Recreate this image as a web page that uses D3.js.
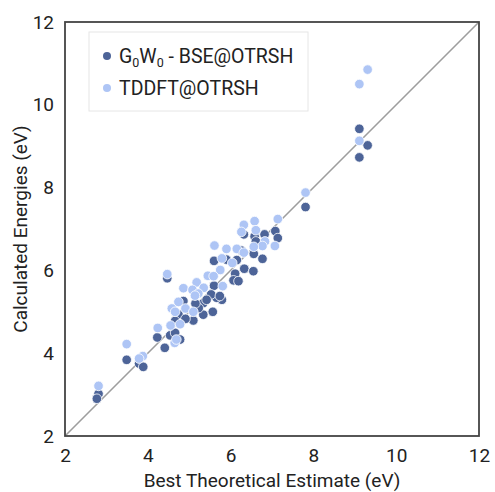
<!DOCTYPE html>
<html>
<head>
<script src="https://cdn.jsdelivr.net/npm/d3@7"></script>
<style>
  body { margin: 0; background: #fff; }
  text { font-family: Roboto, "Noto Sans", sans-serif; fill: #222; }
</style>
</head>
<body>
<script>
// G0W0 - BSE@OTRSH (dark)
var gwX = [9.11, 9.31, 9.11, 7.81, 2.81, 2.77, 3.49, 3.79, 3.89, 4.47,
           6.32, 6.58, 6.61, 6.82, 7.08, 7.14, 6.56, 6.77, 5.60, 5.90,
           6.15, 6.26, 6.33, 6.55, 6.11, 6.07, 6.19, 5.60, 5.79, 5.66,
           5.53, 5.34, 5.57, 5.34, 5.23, 5.10, 4.86, 4.74, 4.66, 4.91,
           4.23, 4.54, 4.66, 4.78, 4.41, 5.15, 5.42, 5.74];
var gwY = [9.42, 9.02, 8.73, 7.53, 3.02, 2.90, 3.84, 3.75, 3.67, 5.81,
           6.87, 6.82, 6.70, 6.87, 6.95, 6.78, 6.40, 6.28, 6.23, 6.26,
           6.25, 6.48, 6.04, 5.98, 5.92, 5.76, 5.74, 5.63, 5.29, 5.34,
           5.42, 5.21, 5.00, 4.93, 5.09, 4.79, 5.26, 4.94, 4.78, 4.83,
           4.38, 4.43, 4.49, 4.33, 4.13, 5.20, 5.29, 5.38];
// TDDFT@OTRSH (light)
var tdX = [9.31, 9.11, 9.11, 7.81, 2.81, 3.49, 3.88, 3.79, 4.47,
           6.32, 6.58, 7.14, 6.61, 6.26, 5.61, 5.90, 6.15, 6.83, 7.07,
           6.77, 6.32, 5.79, 6.04, 6.56, 5.75, 5.45, 5.59, 5.81, 5.18,
           4.86, 5.08, 5.35, 5.22, 5.14, 4.74, 4.58, 4.66, 4.91, 5.10,
           4.24, 4.55, 4.78, 4.65, 4.69];
var tdY = [10.85, 10.50, 9.13, 7.88, 3.21, 4.22, 3.93, 3.87, 5.91,
           7.10, 7.19, 7.24, 6.97, 6.93, 6.60, 6.52, 6.52, 6.70, 6.59,
           6.59, 6.43, 6.29, 6.18, 6.57, 6.01, 5.87, 5.86, 5.62, 5.71,
           5.57, 5.53, 5.58, 5.44, 5.39, 5.24, 5.08, 5.00, 5.08, 5.00,
           4.61, 4.67, 4.70, 4.25, 4.33];
var ticks = [2, 4, 6, 8, 10, 12];
var seriesNames = ["G\u2080W\u2080 - BSE@OTRSH", "TDDFT@OTRSH"];
var colors = ["#4d6498", "#aec5f5"];

var W = 495, H = 492;
var m = {left: 65, top: 22, right: 16, bottom: 56};
var svg = d3.select("body").append("svg").attr("width", W).attr("height", H);

var x = d3.scaleLinear().domain([2, 12]).range([m.left, W - m.right]);
var y = d3.scaleLinear().domain([2, 12]).range([H - m.bottom, m.top]);

// diagonal
svg.append("line")
  .attr("x1", x(2)).attr("y1", y(2)).attr("x2", x(12)).attr("y2", y(12))
  .attr("stroke", "#9e9e9e").attr("stroke-width", 1.6);

function drawSeries(xs, ys, col) {
  svg.append("g").selectAll("circle")
    .data(xs.map(function(v, i) { return [v, ys[i]]; }))
    .enter().append("circle")
    .attr("cx", function(d) { return x(d[0]); })
    .attr("cy", function(d) { return y(d[1]); })
    .attr("r", 4.8)
    .attr("fill", col)
    .attr("stroke", "#fff").attr("stroke-width", 0.8);
}
drawSeries(gwX, gwY, colors[0]);
drawSeries(tdX, tdY, colors[1]);

// frame
svg.append("rect")
  .attr("x", x(2)).attr("y", y(12))
  .attr("width", x(12) - x(2)).attr("height", y(2) - y(12))
  .attr("fill", "none").attr("stroke", "#444").attr("stroke-width", 1.8);

// axes (labels only)
var xAxis = svg.append("g").attr("transform", "translate(0," + (H - m.bottom) + ")")
  .call(d3.axisBottom(x).tickValues(ticks).tickSize(0).tickPadding(13));
var yAxis = svg.append("g").attr("transform", "translate(" + m.left + ",0)")
  .call(d3.axisLeft(y).tickValues(ticks).tickSize(0).tickPadding(11));
[xAxis, yAxis].forEach(function(a) {
  a.select(".domain").remove();
  a.selectAll("text").attr("font-size", 19).attr("font-family", "Roboto").attr("fill", "#222");
});

svg.append("text").attr("x", x(7)).attr("y", 487)
  .attr("text-anchor", "middle").attr("font-size", 19).text("Best Theoretical Estimate (eV)");
svg.append("text")
  .attr("transform", "translate(27," + y(7) + ") rotate(-90)")
  .attr("text-anchor", "middle").attr("font-size", 19).text("Calculated Energies (eV)");

// legend
var lg = svg.append("g");
lg.append("rect").attr("x", 89).attr("y", 32).attr("width", 219).attr("height", 79)
  .attr("fill", "#fff").attr("stroke", "#e6e6e6").attr("stroke-width", 1);
seriesNames.forEach(function(n, i) {
  var cy = 56 + i * 32;
  lg.append("circle").attr("cx", 107).attr("cy", cy).attr("r", 4).attr("fill", colors[i]);
  var t = lg.append("text").attr("x", 119).attr("y", cy + 7).attr("font-size", 19.5);
  if (i === 0) {
    t.append("tspan").text("G");
    t.append("tspan").attr("font-size", 12.5).attr("dy", 4).text("0");
    t.append("tspan").attr("dy", -4).text("W");
    t.append("tspan").attr("font-size", 12.5).attr("dy", 4).text("0");
    t.append("tspan").attr("dy", -4).text(" - BSE@OTRSH");
  } else {
    t.text(n);
  }
});
</script>
</body>
</html>
